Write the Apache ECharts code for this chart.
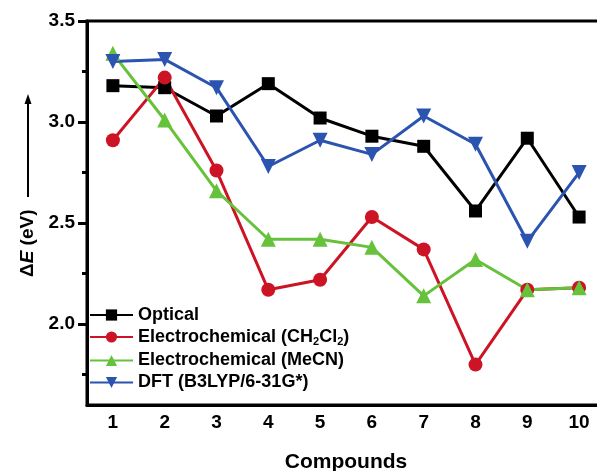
<!DOCTYPE html>
<html>
<head>
    <meta charset="utf-8">
    <script src="https://cdn.jsdelivr.net/npm/echarts@6/dist/echarts.min.js"></script>
</head>
<body style="margin:0">
<div id="main" style="width: 597px;height:471px;"></div>

<script type="text/javascript">
    // data
    var compounds = ['1', '2', '3', '4', '5', '6', '7', '8', '9', '10'];
    var optical = [3.18, 3.17, 3.03, 3.19, 3.02, 2.93, 2.88, 2.56, 2.92, 2.53];
    var echemCH2Cl2 = [2.91, 3.22, 2.76, 2.17, 2.22, 2.53, 2.37, 1.80, 2.17, 2.18];
    var echemMeCN = [3.34, 3.01, 2.66, 2.42, 2.42, 2.38, 2.14, 2.32, 2.17, 2.18];
    var dft = [3.30, 3.31, 3.17, 2.78, 2.91, 2.84, 3.03, 2.89, 2.41, 2.75];
    var majorTicks = [2.0, 2.5, 3.0, 3.5];
    var minorTicks = [1.75, 2.25, 2.75, 3.25];

    var font = '"Liberation Sans", Arial, sans-serif';
    var myChart = echarts.init(document.getElementById('main'));

    function makeSeries(name, data, color, symbol, size) {
        return {
            name: name,
            type: 'line',
            data: data,
            symbol: symbol,
            symbolSize: size,
            lineStyle: { color: color, width: 3 },
            itemStyle: { color: color },
            z: 3
        };
    }

    var option = {
        animation: false,
        grid: {
            left: 87, top: 21, width: 518, height: 384,
            outerBoundsMode: 'none',
            containLabel: false,
            show: true, borderColor: '#000', borderWidth: 3
        },
        legend: {
            orient: 'vertical',
            left: 84,
            top: 301,
            itemWidth: 43,
            itemHeight: 14,
            itemGap: 4,
            textStyle: { fontFamily: font, fontSize: 18, fontWeight: 'bold', color: '#000' },
            formatter: function (name) {
                if (name === 'CH2Cl2') {
                    return '{a|Electrochemical (CH}{s|2}{a|Cl}{s|2}{a|)}';
                }
                return name;
            },
            data: ['Optical', 'CH2Cl2', 'Electrochemical (MeCN)', 'DFT (B3LYP/6-31G*)']
        },
        xAxis: {
            type: 'category',
            data: compounds,
            boundaryGap: true,
            name: 'Compounds',
            nameLocation: 'middle',
            nameGap: 47,
            nameTextStyle: { fontFamily: font, fontSize: 21, fontWeight: 'bold', color: '#000' },
            axisLine: { lineStyle: { color: '#000', width: 3 } },
            axisTick: { alignWithLabel: true, length: 7, lineStyle: { color: '#000', width: 3 } },
            axisLabel: { margin: 8, fontFamily: font, fontSize: 19, fontWeight: 'bold', color: '#000' },
            splitLine: { show: false }
        },
        yAxis: [{
            type: 'value',
            min: 1.6,
            max: 3.5,
            axisLine: { show: true, lineStyle: { color: '#000', width: 3 } },
            axisTick: { show: true, length: 9, customValues: majorTicks, lineStyle: { color: '#000', width: 3 } },
            axisLabel: {
                margin: 12, customValues: majorTicks,
                fontFamily: font, fontSize: 19, fontWeight: 'bold', color: '#000',
                formatter: function (v) { return v.toFixed(1); }
            },
            splitLine: { show: false }
        }, {
            type: 'value',
            min: 1.6,
            max: 3.5,
            position: 'left',
            axisLine: { show: false },
            axisTick: { show: true, length: 5, customValues: minorTicks, lineStyle: { color: '#000', width: 3 } },
            axisLabel: { show: false },
            splitLine: { show: false }
        }],
        graphic: [{
            type: 'text',
            x: 18,
            y: 277,
            rotation: Math.PI / 2,
            style: {
                text: '{n|Δ}{i|E}{n| (eV)}',
                rich: {
                    n: { fontFamily: font, fontSize: 19, fontWeight: 'bold', fill: '#000' },
                    i: { fontFamily: font, fontSize: 19, fontWeight: 'bold', fontStyle: 'italic', fill: '#000' }
                }
            }
        }, {
            type: 'line',
            shape: { x1: 28, y1: 197, x2: 28, y2: 102 },
            style: { stroke: '#000', lineWidth: 2 }
        }, {
            type: 'polygon',
            shape: { points: [[28, 94], [24.5, 104], [31.5, 104]] },
            style: { fill: '#000' }
        }],
        series: [
            makeSeries('Optical', optical, '#000000', 'rect', 13),
            makeSeries('CH2Cl2', echemCH2Cl2, '#cc1424', 'circle', 14),
            makeSeries('Electrochemical (MeCN)', echemMeCN, '#66c23a', 'triangle', 15),
            makeSeries('DFT (B3LYP/6-31G*)', dft, '#2b53b0', 'path://M0,0 L10,0 L5,9 Z', 15)
        ]
    };

    option.legend.textStyle.rich = {
        a: { fontFamily: font, fontSize: 18, fontWeight: 'bold', color: '#000' },
        s: { fontFamily: font, fontSize: 11, fontWeight: 'bold', color: '#000', padding: [10, 0, 0, 0] }
    };

    myChart.setOption(option);
</script>
</body>
</html>
